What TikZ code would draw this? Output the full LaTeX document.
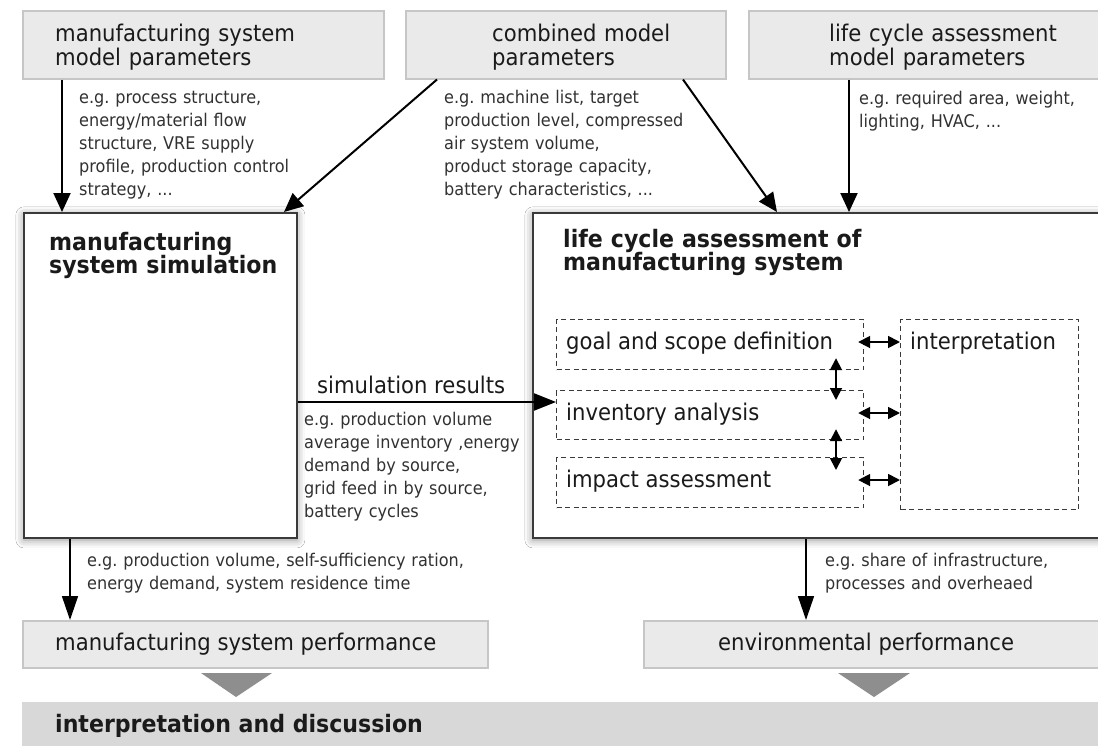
\documentclass[tikz,border=0pt]{standalone}
\usepackage{fontspec}
\setmainfont{DejaVu Sans}[FakeStretch=0.92]
\usetikzlibrary{arrows.meta,shadows.blur,calc}
\frenchspacing
\definecolor{boxfill}{HTML}{EAEAEA}
\definecolor{boxline}{HTML}{C6C6C6}
\definecolor{barfill}{HTML}{D8D8D8}
\definecolor{trig}{HTML}{8E8E8E}
\definecolor{ink}{HTML}{1A1A1A}
\definecolor{frame}{HTML}{3A3A3A}
\tikzset{
  pbox/.style={fill=boxfill, draw=boxline, line width=1.5pt, inner sep=0pt, anchor=north west},
  mbox/.style={fill=white, draw=frame, line width=1.8pt, inner sep=0pt, anchor=north west,
    blur shadow={shadow blur radius=8pt, shadow xshift=0pt, shadow yshift=-2pt, shadow opacity=45}},
  dbox/.style={draw=frame, line width=1.2pt, dash pattern=on 5pt off 3.5pt, inner sep=0pt, anchor=north west},
  big/.style={font=\frenchspacing\fontsize{23}{24.5}\selectfont, text=ink, inner sep=0pt, anchor=base west, align=left},
  bigb/.style={font=\frenchspacing\bfseries\fontsize{24}{23.5}\selectfont, text=ink, inner sep=0pt, anchor=base west, align=left},
  ann/.style={font=\frenchspacing\fontsize{17.5}{23}\selectfont, text=ink!90, inner sep=0pt, anchor=base west, align=left},
  arr/.style={draw=black, line width=2pt, -{Triangle[length=19pt,width=17pt]}},
  arrb/.style={draw=black, line width=1.6pt, -{Triangle[length=24pt,width=16pt]}},
  darr/.style={draw=black, line width=1.8pt, {Triangle[length=12pt,width=12pt]}-{Triangle[length=12pt,width=12pt]}}
}
\begin{document}
\begin{tikzpicture}[x=1pt,y=-1pt]
\useasboundingbox (0,0) rectangle (1098,745);
\fill[white] (0,0) rectangle (1098,745);
\clip (0,0) rectangle (1098,745);

% top parameter boxes
\node[pbox, minimum width=361, minimum height=68] (b1) at (22,10) {};
\node[pbox, minimum width=320, minimum height=68] (b2) at (405,10) {};
\node[pbox, minimum width=360, minimum height=68] (b3) at (748,10) {};
\node[big, text width=300] (t1) at (55,41) {manufacturing system\\model parameters};
\node[big, text width=220] (t2) at (492,41) {combined model\\parameters};
\node[big, text width=260] (t3) at (829,41) {life cycle assessment\\model parameters};

% annotations
\node[ann, text width=300] (a1) at (79,103) {e.g. process structure,\\energy/material flow\\structure, VRE supply\\profile, production control\\strategy, ...};
\node[ann, text width=300] (a2) at (444,103) {e.g. machine list, target\\production level, compressed\\air system volume,\\product storage capacity,\\battery characteristics, ...};
\node[ann, text width=235] (a3) at (859,104) {e.g. required area, weight,\\lighting, HVAC, ...};

% main boxes
\node[mbox, minimum width=273, minimum height=325] (sim) at (23,212) {};
\node[mbox, minimum width=600, minimum height=325] (lca) at (532,212) {};
\node[bigb, text width=240] (st) at (49,250) {manufacturing\\system simulation};
\node[bigb, text width=400] (lt) at (563,247) {life cycle assessment of\\manufacturing system};

% LCA phases
\node[dbox, minimum width=307, minimum height=50] (goal) at (556,319) {};
\node[dbox, minimum width=307, minimum height=49] (inv) at (556,390) {};
\node[dbox, minimum width=307, minimum height=50] (imp) at (556,457) {};
\node[dbox, minimum width=178, minimum height=190] (interp) at (900,319) {};
\node[big] (tg) at (566,349) {goal and scope definition};
\node[big] (ti) at (566,420) {inventory analysis};
\node[big] (tm) at (566,487) {impact assessment};
\node[big] (tp) at (910,349) {interpretation};

% input arrows
\draw[arr] (b1.south -| 62,0) -- (sim.north -| 62,0);
\draw[arr] (b2.south -| 437,0) -- (sim.north -| 284,0);
\draw[arr] (b2.south -| 683,0) -- (lca.north -| 777,0);
\draw[arr] (b3.south -| 849,0) -- (lca.north -| 849,0);

% simulation results
\draw[arr, -{Triangle[length=22pt,width=17pt]}] (sim.east |- 0,402) -- (inv.west |- 0,402);
\node[big] (sr) at (317,393) {simulation results};
\node[ann, text width=230] (a4) at (304,425) {e.g. production volume\\average inventory ,energy\\demand by source,\\grid feed in by source,\\battery cycles};

% LCA internal arrows
\draw[darr] ($(goal.east |- 0,342)+(-6,0)$) -- (interp.west |- 0,342);
\draw[darr] ($(inv.east |- 0,413)+(-6,0)$) -- (interp.west |- 0,413);
\draw[darr] ($(imp.east |- 0,480)+(-6,0)$) -- (interp.west |- 0,480);
\draw[darr] ($(goal.south -| 836,0)+(0,-12)$) -- ($(inv.north -| 836,0)+(0,10)$);
\draw[darr] ($(inv.south -| 836,0)+(0,-11)$) -- ($(imp.north -| 836,0)+(0,13)$);

% performance boxes
\node[pbox, minimum width=465, minimum height=47] (mp) at (22,620) {};
\node[pbox, minimum width=470, minimum height=47] (ep) at (643,620) {};
\node[big] (tmp) at (55,650) {manufacturing system performance};
\node[big] (tep) at (718,650) {environmental performance};

\draw[arrb] (sim.south -| 70,0) -- (mp.north -| 70,0);
\draw[arrb] (lca.south -| 806,0) -- (ep.north -| 806,0);
\node[ann, text width=500] (a5) at (87,566) {e.g. production volume, self-sufficiency ration,\\energy demand, system residence time};
\node[ann, text width=260] (a6) at (825,566) {e.g. share of infrastructure,\\processes and overheaed};

% triangles and bottom bar
\fill[trig] (201,673) -- (272,673) -- (236,697) -- cycle;
\fill[trig] (838,673) -- (910,673) -- (874,697) -- cycle;
\node[fill=barfill, inner sep=0pt, anchor=north west, minimum width=1080, minimum height=45] (bar) at (22,702) {};
\node[bigb] (tb) at (55,732) {interpretation and discussion};
\end{tikzpicture}
\end{document}
